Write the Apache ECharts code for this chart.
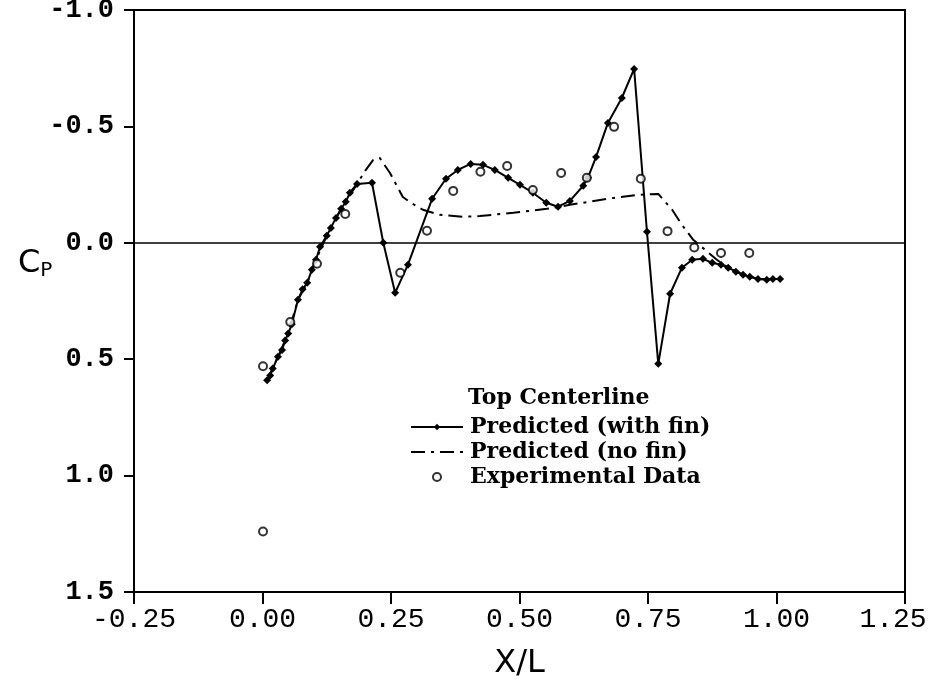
<!DOCTYPE html>
<html>
<head>
<meta charset="utf-8">
<title>Top Centerline Cp</title>
<script src="https://cdn.jsdelivr.net/npm/echarts@6/dist/echarts.min.js"></script>
<style>
  html, body { margin: 0; padding: 0; background: #fff; }
  #chart { width: 931px; height: 679px; }
</style>
</head>
<body>
<div id="chart"></div>
<script>
// Axis ticks
const xTickLabels = ['-0.25', '0.00', '0.25', '0.50', '0.75', '1.00', '1.25'];
const yTickLabels = ['-1.0', '-0.5', '0.0', '0.5', '1.0', '1.5'];

// Predicted (with fin): [X/L, Cp]
const withFin = [
  [0.009, 0.59], [0.015, 0.57], [0.020, 0.54], [0.030, 0.49], [0.038, 0.46],
  [0.044, 0.42], [0.050, 0.39], [0.057, 0.35], [0.069, 0.245], [0.078, 0.20],
  [0.087, 0.172], [0.096, 0.116], [0.104, 0.073], [0.112, 0.017], [0.125, -0.03],
  [0.133, -0.064], [0.143, -0.107], [0.153, -0.146], [0.162, -0.176], [0.170, -0.215],
  [0.184, -0.253], [0.213, -0.258], [0.235, 0.0], [0.258, 0.215], [0.283, 0.094],
  [0.330, -0.189], [0.357, -0.275], [0.380, -0.313], [0.405, -0.339], [0.429, -0.335],
  [0.452, -0.313], [0.478, -0.279], [0.501, -0.249], [0.526, -0.215], [0.552, -0.172],
  [0.575, -0.155], [0.598, -0.180], [0.624, -0.245], [0.633, -0.279], [0.649, -0.369],
  [0.672, -0.515], [0.699, -0.622], [0.723, -0.747], [0.748, -0.047], [0.770, 0.52],
  [0.793, 0.219], [0.816, 0.107], [0.836, 0.073], [0.857, 0.069], [0.875, 0.086],
  [0.892, 0.094], [0.906, 0.107], [0.921, 0.124], [0.935, 0.137], [0.948, 0.146],
  [0.964, 0.155], [0.981, 0.159], [0.993, 0.155], [1.007, 0.155]
];

// Predicted (no fin): [X/L, Cp]
const noFin = [
  [0.009, 0.59], [0.030, 0.49], [0.050, 0.39], [0.069, 0.245], [0.087, 0.172],
  [0.104, 0.073], [0.125, -0.03], [0.143, -0.107], [0.162, -0.176], [0.184, -0.253],
  [0.200, -0.31], [0.215, -0.355], [0.228, -0.365], [0.248, -0.30], [0.273, -0.197],
  [0.290, -0.17], [0.312, -0.142], [0.345, -0.12], [0.390, -0.112], [0.423, -0.115],
  [0.488, -0.129], [0.553, -0.146], [0.598, -0.163], [0.670, -0.189], [0.729, -0.206],
  [0.770, -0.21], [0.797, -0.142], [0.816, -0.077], [0.838, -0.013], [0.861, 0.03],
  [0.884, 0.073], [0.906, 0.107], [0.935, 0.137], [0.964, 0.155], [0.993, 0.155],
  [1.007, 0.155]
];

// Experimental data: [X/L, Cp]
const experimental = [
  [0.001, 0.53], [0.001, 1.24], [0.054, 0.34], [0.106, 0.09], [0.161, -0.124],
  [0.268, 0.129], [0.320, -0.052], [0.371, -0.223], [0.424, -0.305], [0.476, -0.33],
  [0.526, -0.227], [0.581, -0.30], [0.631, -0.279], [0.684, -0.498], [0.736, -0.275],
  [0.788, -0.05], [0.840, 0.02], [0.892, 0.044], [0.947, 0.044]
];

const X_MIN = -0.25, X_MAX = 1.25, X_STEP = 0.25;
const Y_MIN = -1.0, Y_MAX = 1.5, Y_STEP = 0.5;

const chart = echarts.init(document.getElementById('chart'), null, { renderer: 'canvas' });

const serif = '"DejaVu Serif", "Liberation Serif", serif';
const mono = '"Liberation Mono", "DejaVu Sans Mono", monospace';

chart.setOption({
  backgroundColor: '#ffffff',
  animation: false,
  grid: {
    left: 134, right: 26, top: 10, bottom: 87,
    outerBoundsMode: 'none',
    containLabel: false,
    show: true, borderColor: '#000', borderWidth: 2
  },
  xAxis: {
    type: 'value',
    min: X_MIN, max: X_MAX, interval: X_STEP,
    name: 'X/L',
    nameLocation: 'middle',
    nameGap: 56,
    nameTextStyle: { fontFamily: '"DejaVu Sans", sans-serif', fontSize: 32, color: '#000' },
    axisLine: { show: true, onZero: false, lineStyle: { color: '#000', width: 2 } },
    axisTick: { show: true, inside: false, length: 12, lineStyle: { color: '#000', width: 2 } },
    axisLabel: {
      margin: 14, color: '#000', fontFamily: mono, fontSize: 28,
      formatter: v => {
        const i = Math.round((v - X_MIN) / X_STEP);
        // keep the last label inside the canvas edge
        return i === xTickLabels.length - 1 ? '{last|' + xTickLabels[i] + '}' : xTickLabels[i];
      },
      rich: {
        last: { fontFamily: mono, fontSize: 28, color: '#000', padding: [0, 24, 0, 0] }
      }
    },
    splitLine: { show: false }
  },
  yAxis: {
    type: 'value',
    inverse: true,
    min: Y_MIN, max: Y_MAX, interval: Y_STEP,
    axisLine: { show: true, onZero: false, lineStyle: { color: '#000', width: 2 } },
    axisTick: { show: true, inside: false, length: 10, lineStyle: { color: '#000', width: 2 } },
    axisLabel: {
      margin: 20, color: '#000', fontFamily: mono, fontSize: 27, fontWeight: 'bold',
      formatter: v => yTickLabels[Math.round((v - Y_MIN) / Y_STEP)]
    },
    splitLine: { show: false }
  },
  legend: {
    orient: 'vertical',
    left: 405, top: 411,
    itemWidth: 52, itemHeight: 8,
    itemGap: 3,
    textStyle: { fontFamily: serif, fontSize: 22, fontWeight: 'bold', color: '#000', padding: [0, 0, 0, 2] },
    data: [
      { name: 'Predicted (with fin)' },
      { name: 'Predicted (no fin)', itemStyle: { opacity: 0 } },
      { name: 'Experimental Data', icon: 'emptyCircle', itemStyle: { borderWidth: 2 } }
    ]
  },
  graphic: [
    {
      type: 'text', left: 468, top: 387,
      style: { text: 'Top Centerline', font: 'bold 22px ' + serif, fill: '#000' }
    },
    {
      type: 'text', left: 18, top: 248,
      style: {
        text: '{c|C}{p|P}',
        rich: {
          c: { fontFamily: '"DejaVu Sans", sans-serif', fontSize: 32, fill: '#000' },
          p: { fontFamily: '"DejaVu Sans", sans-serif', fontSize: 20, fill: '#000', padding: [14, 0, 0, 0] }
        }
      }
    }
  ],
  series: [
    {
      name: 'Predicted (with fin)',
      type: 'line',
      data: withFin,
      symbol: 'diamond',
      symbolSize: 8,
      showAllSymbol: true,
      lineStyle: { color: '#000', width: 2 },
      itemStyle: { color: '#000' },
      z: 3,
      markLine: {
        silent: true,
        symbol: ['none', 'none'],
        label: { show: false },
        lineStyle: { color: '#000', width: 1.5, type: 'solid' },
        data: [{ yAxis: 0 }]
      }
    },
    {
      name: 'Predicted (no fin)',
      type: 'line',
      data: noFin,
      showSymbol: false,
      symbol: 'none',
      lineStyle: { color: '#000', width: 2, type: [14, 6, 3, 6] },
      itemStyle: { color: '#000' },
      z: 2
    },
    {
      name: 'Experimental Data',
      type: 'scatter',
      data: experimental,
      symbol: 'emptyCircle',
      symbolSize: 8,
      itemStyle: { color: '#000', borderColor: '#000', borderWidth: 2 },
      z: 4
    }
  ]
});
</script>
</body>
</html>
